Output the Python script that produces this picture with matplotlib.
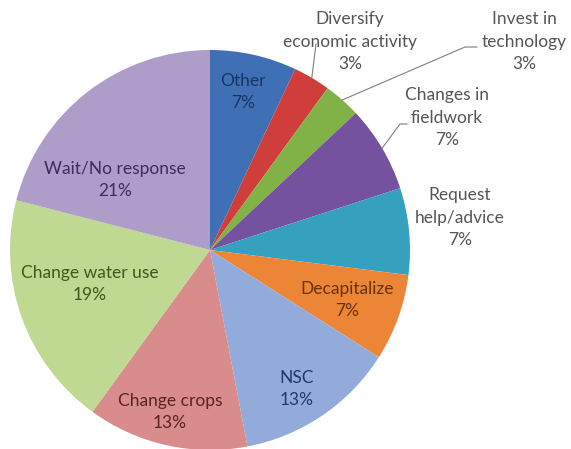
import numpy as np
import matplotlib
matplotlib.use("Agg")
import matplotlib.pyplot as plt

plt.rcParams['font.family'] = ['Lato', 'DejaVu Sans']

# responses, clockwise from 12 o'clock
labels = ["Other", "Diversify\neconomic activity", "Invest in\ntechnology",
          "Changes in\nfieldwork", "Request\nhelp/advice", "Decapitalize",
          "NSC", "Change crops", "Change water use", "Wait/No response"]
shares = [7, 3, 3, 7, 7, 7, 13, 13, 19, 21]

wedge_colors = ["#3f70b5", "#cf3e3a", "#80b245", "#7452a0", "#35a1bf",
                "#ec8535", "#93abdb", "#d88c8b", "#bfd892", "#ae9cc9"]
text_colors = ["#1c3560", "#555555", "#555555", "#555555", "#555555",
               "#6b3208", "#1f3a6b", "#5c2323", "#3d5a1d", "#3c2f5c"]

# label positions in pie units (radius = 1)
label_pos = [(0.165, 0.79), (0.70, 1.04), (1.57, 1.04), (1.185, 0.66), (1.25, 0.16),
             (0.685, -0.25), (0.435, -0.695), (-0.20, -0.81), (-0.60, -0.17), (-0.475, 0.35)]
# leader lines for the small outer slices: (bend point, end point)
leaders = {1: [(0.53, 1.03), (0.53, 1.03)],
           2: [(1.275, 1.015), (1.335, 1.015)],
           3: [(0.95, 0.63), (0.985, 0.63)]}

fig = plt.figure(figsize=(5.71, 4.49), dpi=100)
ax = fig.add_axes([10 / 571, -1 / 449, 400 / 571, 400 / 449])

wedges, _ = ax.pie(shares, colors=wedge_colors, startangle=90, counterclock=False,
                   radius=1, wedgeprops=dict(linewidth=0))
ax.set_xlim(-1, 1)
ax.set_ylim(-1, 1)
ax.set_aspect('equal')
ax.axis('off')

for i, (lab, val) in enumerate(zip(labels, shares)):
    x, y = label_pos[i]
    ax.text(x, y, f"{lab}\n{val}%", ha='center', va='center', fontsize=12.5,
            color=text_colors[i], linespacing=1.5, clip_on=False)
    if i in leaders:
        w = wedges[i]
        mid = np.deg2rad((w.theta1 + w.theta2) / 2)
        xs = [np.cos(mid)] + [p[0] for p in leaders[i]]
        ys = [np.sin(mid)] + [p[1] for p in leaders[i]]
        ax.plot(xs, ys, color="#7f7f7f", lw=0.8, clip_on=False)

fig.savefig("out.png", dpi=100)
